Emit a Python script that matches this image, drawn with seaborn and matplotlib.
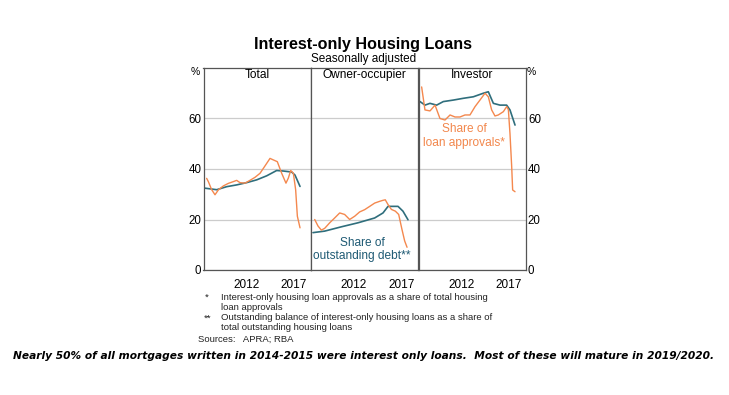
import pandas as pd
import matplotlib
matplotlib.use("Agg")
import matplotlib.pyplot as plt
import seaborn as sns

# values (fractional years, per cent)
total_appr_year = [2007.83, 2008.01, 2008.36, 2008.71, 2009.06, 2009.59, 2010.11, 2010.64, 2010.99,
                   2011.34, 2011.87, 2012.39, 2012.92, 2013.45, 2013.97, 2014.50, 2014.85, 2015.27,
                   2015.73, 2016.18, 2016.43, 2016.68, 2016.96, 2017.20, 2017.38, 2017.66]
total_appr = [36.3, 35.0, 31.8, 29.8, 31.7, 33.3, 34.3, 35.0, 35.5, 34.6, 34.4, 35.5, 36.7, 38.3,
              41.2, 44.2, 43.6, 42.9, 38.3, 34.4, 36.4, 39.4, 38.3, 31.8, 21.3, 16.7]
total_debt_year = [2007.66, 2008.89, 2009.94, 2010.99, 2012.04, 2013.10, 2014.15, 2015.20,
                   2015.90, 2016.78, 2017.13, 2017.66]
total_debt = [32.4, 31.8, 33.0, 33.7, 34.6, 35.7, 37.3, 39.4, 39.2, 38.8, 37.6, 33.1]

owner_appr_year = [2007.89, 2008.24, 2008.59, 2008.94, 2009.47, 2009.99, 2010.52, 2011.04, 2011.57,
                   2012.10, 2012.62, 2013.15, 2013.68, 2014.20, 2014.73, 2015.08, 2015.32, 2015.61,
                   2015.96, 2016.38, 2016.73, 2017.08, 2017.36, 2017.61]
owner_appr = [20.0, 17.4, 15.8, 16.5, 18.7, 20.6, 22.6, 22.0, 20.0, 21.3, 23.0, 23.9, 25.2, 26.5,
              27.2, 27.6, 27.8, 25.9, 24.0, 23.3, 22.0, 16.0, 11.5, 9.0]
owner_debt_year = [2007.71, 2008.94, 2010.69, 2012.45, 2014.20, 2015.08, 2015.61, 2016.66,
                   2017.18, 2017.71]
owner_debt = [14.8, 15.4, 17.1, 18.7, 20.6, 22.6, 25.2, 25.2, 23.3, 19.9]

inv_appr_year = [2007.83, 2008.18, 2008.71, 2009.24, 2009.76, 2010.29, 2010.82, 2011.34, 2011.87,
                 2012.39, 2012.92, 2013.45, 2013.97, 2014.50, 2014.85, 2015.20, 2015.55, 2015.90,
                 2016.43, 2016.78, 2016.96, 2017.13, 2017.31, 2017.41, 2017.66]
inv_appr = [72.5, 63.4, 63.0, 65.3, 60.0, 59.4, 61.4, 60.6, 60.6, 61.4, 61.4, 64.7, 67.3, 70.0,
            68.6, 63.4, 61.0, 61.4, 62.7, 64.7, 63.5, 54.0, 40.9, 31.7, 31.0]
inv_debt_year = [2007.66, 2008.18, 2008.71, 2009.41, 2010.11, 2011.17, 2012.22, 2013.27, 2014.32,
                 2014.85, 2015.38, 2016.08, 2016.78, 2017.13, 2017.66]
inv_debt = [66.7, 65.3, 66.0, 65.3, 66.7, 67.3, 68.0, 68.6, 70.0, 70.6, 66.0, 65.3, 65.3, 63.4, 57.4]

panel_titles = ["Total", "Owner-occupier", "Investor"]
year_ticks = list(range(2008, 2019))
year_labels = ["2012", "2017"]
y_ticks = [0, 20, 40, 60]

ORANGE = "#F4884E"
TEAL = "#2F6E7C"

sns.set_style("white")
plt.rcParams["font.family"] = ["Liberation Sans", "DejaVu Sans"]
plt.rcParams["text.color"] = "black"
plt.rcParams["xtick.color"] = "black"
plt.rcParams["ytick.color"] = "black"

W, H = 729, 395
fig = plt.figure(figsize=(W / 100, H / 100), dpi=100)


def fx(x):
    return x / W


def fy(y):
    return 1 - y / H


panels = [
    (total_appr_year, total_appr, total_debt_year, total_debt),
    (owner_appr_year, owner_appr, owner_debt_year, owner_debt),
    (inv_appr_year, inv_appr, inv_debt_year, inv_debt),
]
lefts = [203.5, 311, 418.5]
pw = 107.3

axes = []
for i, (ay, av, dy, dv) in enumerate(panels):
    ax = fig.add_axes([fx(lefts[i]), fy(270), pw / W, 202 / H])
    appr = pd.DataFrame({"year": ay, "share": av})
    debt = pd.DataFrame({"year": dy, "share": dv})
    sns.lineplot(data=debt, x="year", y="share", ax=ax, color=TEAL, lw=1.2)
    sns.lineplot(data=appr, x="year", y="share", ax=ax, color=ORANGE, lw=1.0)
    ax.set_xlim(2007.5, 2007.5 + pw / 9.5)
    ax.set_ylim(0, 80)
    ax.set_xlabel("")
    ax.set_ylabel("")
    ax.set_yticks(y_ticks)
    ax.yaxis.grid(True, color="#cccccc", lw=0.9)
    ax.set_axisbelow(True)
    ax.set_xticks(year_ticks)
    ax.set_xticklabels(["" for _ in year_ticks])
    ax.tick_params(axis="x", direction="in", length=3, width=0.7, color="#555555", pad=3)
    ax.tick_params(axis="y", length=0, labelsize=8.3, pad=1.5)
    for s in ax.spines.values():
        s.set_color("#555555")
        s.set_linewidth(0.9)
    for lab in year_labels:
        ax.text(int(lab), -3.5, lab, ha="center", va="top", fontsize=8.5)
    if i == 0:
        ax.yaxis.tick_left()
    elif i == 2:
        ax.yaxis.tick_right()
        ax.tick_params(axis="y", labelright=True, labelleft=False)
    else:
        ax.tick_params(axis="y", labelleft=False)
    ax.text(0.5, 0.965, panel_titles[i], transform=ax.transAxes, ha="center", va="center",
            fontsize=8.6)
    axes.append(ax)

axes[1].text(2012.87, 8.2, "Share of\noutstanding debt**", ha="center", va="center",
             fontsize=8.6, color="#1E5A74", linespacing=1.15)
axes[2].text(2012.29, 53.1, "Share of\nloan approvals*", ha="center", va="center",
             fontsize=8.6, color="#F2874C", linespacing=1.15)

fig.text(fx(195), fy(72), "%", ha="center", va="center", fontsize=7.5)
fig.text(fx(531), fy(72), "%", ha="center", va="center", fontsize=7.5)

fig.text(fx(363.5), fy(44), "Interest-only Housing Loans", ha="center", va="center",
         fontsize=11.6, fontweight="bold")
fig.text(fx(363.5), fy(59), "Seasonally adjusted", ha="center", va="center", fontsize=8.5)

fn = dict(fontsize=6.8, va="center", color="#222222")
fig.text(fx(205), fy(297), "*", **fn)
fig.text(fx(221), fy(297), "Interest-only housing loan approvals as a share of total housing", **fn)
fig.text(fx(221), fy(307), "loan approvals", **fn)
fig.text(fx(204), fy(318), "**", **fn)
fig.text(fx(221), fy(318), "Outstanding balance of interest-only housing loans as a share of", **fn)
fig.text(fx(221), fy(328), "total outstanding housing loans", **fn)
fig.text(fx(198), fy(339), "Sources:   APRA; RBA", **fn)

fig.text(fx(363.5), fy(356),
         "Nearly 50% of all mortgages written in 2014-2015 were interest only loans.  "
         "Most of these will mature in 2019/2020.",
         ha="center", va="center", fontsize=7.7, fontweight="bold", fontstyle="italic",
         family=["DejaVu Sans"])

fig.savefig("out.png", dpi=100)
